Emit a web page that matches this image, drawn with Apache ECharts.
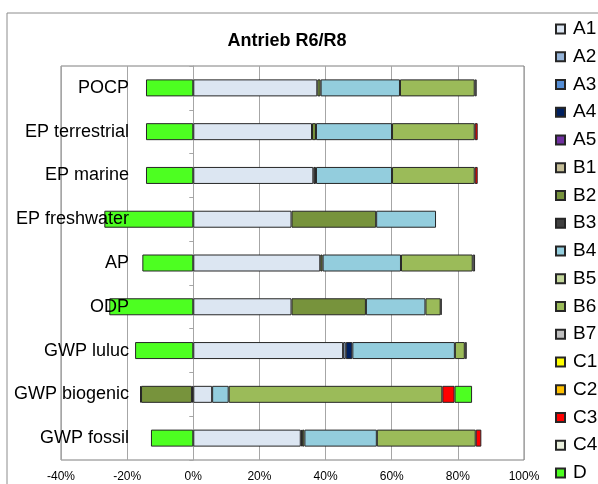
<!DOCTYPE html>
<html>
<head>
<meta charset="utf-8">
<script src="https://cdn.jsdelivr.net/npm/echarts@6/dist/echarts.min.js"></script>
<style>
  html, body { margin: 0; padding: 0; background: #fff; }
  #main { width: 598px; height: 484px; }
</style>
</head>
<body>
<div id="main"></div>
<script>
  // Kategorien von unten nach oben (Reihenfolge der Kategorieachse)
  var categories = ['GWP fossil', 'GWP biogenic', 'GWP luluc', 'ODP', 'AP', 'EP freshwater', 'EP marine', 'EP terrestrial', 'POCP'];

  var seriesNames = ['A1', 'A2', 'A3', 'A4', 'A5', 'B1', 'B2', 'B3', 'B4', 'B5', 'B6', 'B7', 'C1', 'C2', 'C3', 'C4', 'D'];
  var seriesColors = ['#dce6f2', '#95b3d7', '#558ed5', '#002060', '#7030a0', '#c4bd97', '#77933c', '#404040',
    '#93cddd', '#c3d69b', '#9bbb59', '#bfbfbf', '#ffff00', '#ffc000', '#ff0000', '#ebf1de', '#4dff21'];

  // Anteile in %
  var A1 = [32.5, 5.7, 45.3, 29.7, 38.4, 29.7, 36.3, 35.9, 37.5];
  var A2 = [0, 0, 0.8, 0, 0, 0, 0, 0, 0];
  var A3 = [0, 0, 0, 0, 0, 0, 0, 0, 0];
  var A4 = [0.4, -0.4, 2.0, 0, 0, 0, 0, 0, 0];
  var A5 = [0, 0, 0, 0, 0, 0, 0, 0, 0];
  var B1 = [0, 0, 0, 0, 0, 0, 0, 0, 0];
  var B2 = [0.7, -15.4, 0, 22.5, 0.7, 25.6, 0, 1.2, 1.0];
  var B3 = [0, -0.3, 0, 0, 0, 0, 0.8, 0, 0];
  var B4 = [21.9, 5.0, 31.0, 18.0, 23.7, 18.1, 23.0, 23.0, 24.0];
  var B5 = [0, 0, 0, 0, 0, 0, 0, 0, 0];
  var B6 = [29.9, 64.6, 3.0, 4.6, 21.7, 0, 25.0, 25.0, 22.6];
  var B7 = [0, 0, 0.6, 0.3, 0.7, 0, 0, 0, 0.6];
  var C1 = [0, 0, 0, 0, 0, 0, 0, 0, 0];
  var C2 = [0, 0, 0, 0, 0, 0, 0, 0, 0];
  var C3 = [1.7, 3.7, 0, 0, 0, 0, 0.9, 0.9, 0];
  var C4 = [0, 0, 0, 0, 0, 0, 0, 0, 0];
  var D = [-12.8, 5.3, -17.6, -25.4, -15.4, -26.9, -14.3, -14.3, -14.3];

  var seriesData = [A1, A2, A3, A4, A5, B1, B2, B3, B4, B5, B6, B7, C1, C2, C3, C4, D];

  var font = 'Liberation Sans, Arial, sans-serif';

  var chart = echarts.init(document.getElementById('main'));

  var series = seriesNames.map(function (name, i) {
    return {
      name: name,
      type: 'bar',
      stack: 'total',
      yAxisIndex: 0,
      barWidth: 17,
      itemStyle: { color: seriesColors[i], borderColor: '#262626', borderWidth: 1 },
      emphasis: { disabled: true },
      data: seriesData[i].map(function (v) { return v === 0 ? '-' : v; })
    };
  });

  chart.setOption({
    animation: false,
    backgroundColor: '#fff',
    graphic: [{
      type: 'rect',
      shape: { x: 7, y: 13, width: 700, height: 600 },
      style: { fill: 'none', stroke: '#8c8c8c', lineWidth: 1 },
      silent: true
    }],
    title: {
      text: 'Antrieb R6/R8',
      left: 282,
      top: 27,
      textAlign: 'center',
      textStyle: { fontFamily: font, fontSize: 18, fontWeight: 'bold', color: '#000' }
    },
    legend: {
      orient: 'vertical',
      left: 555,
      top: 19.5,
      height: 465,
      padding: 0,
      itemWidth: 9,
      itemHeight: 9,
      itemGap: 8.75,
      icon: 'rect',
      data: seriesNames,
      textStyle: { fontFamily: font, fontSize: 19, lineHeight: 19, color: '#000', padding: [0, 0, 0, 3] }
    },
    grid: {
      left: 61, right: 74, top: 66, bottom: 24,
      outerBoundsMode: 'none',
      containLabel: false,
      show: true,
      borderColor: '#7f7f7f',
      borderWidth: 1
    },
    xAxis: {
      type: 'value',
      min: -40,
      max: 100,
      interval: 20,
      axisLine: { show: false },
      axisTick: { show: false },
      splitLine: { show: true, lineStyle: { color: '#a6a6a6', width: 1 } },
      axisLabel: { formatter: '{value}%', fontFamily: font, fontSize: 12, color: '#000', margin: 11 }
    },
    yAxis: [{
      // Achsenlinie mit Strichen bei 0 %
      type: 'category',
      data: categories,
      axisLine: { show: true, onZero: true, lineStyle: { color: '#a6a6a6' } },
      axisTick: { show: true, length: 4, lineStyle: { color: '#a6a6a6' } },
      axisLabel: { show: false }
    }, {
      // nur Beschriftung, über den Balken
      type: 'category',
      position: 'left',
      z: 10,
      data: categories,
      axisLine: { show: false, onZero: false },
      axisTick: { show: false },
      axisLabel: { fontFamily: font, fontSize: 18, color: '#000', margin: -68 }
    }],
    series: series
  });
</script>
</body>
</html>
